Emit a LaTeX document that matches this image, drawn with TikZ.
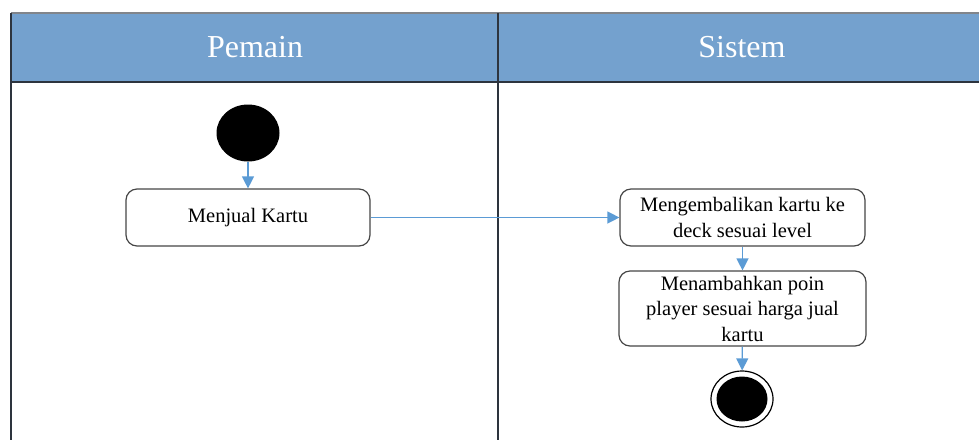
\documentclass[tikz,border=0pt]{standalone}
\usepackage{fontspec}
\setmainfont{Liberation Serif}
\usetikzlibrary{shapes.geometric,arrows.meta}
\definecolor{lanehead}{RGB}{116,161,206}
\definecolor{laneline}{RGB}{45,52,62}
\definecolor{flowblue}{RGB}{91,155,213}
\definecolor{boxline}{RGB}{70,70,70}
\tikzset{
  headtext/.style={text=white,font=\fontsize{32}{36}\selectfont,inner sep=0pt},
  action/.style={draw=boxline,line width=1.2pt,rounded corners=11pt,fill=white,
    align=center,inner sep=2pt,font=\fontsize{20.5}{25.5}\selectfont},
  startdot/.style={ellipse,fill=black,minimum width=63pt,minimum height=57pt,inner sep=0pt},
  endring/.style={ellipse,draw=black,line width=1.2pt,fill=white,minimum width=62pt,minimum height=56pt,inner sep=0pt},
  enddot/.style={ellipse,fill=black,minimum width=51pt,minimum height=45pt,inner sep=0pt},
  flow/.style={draw=flowblue,line width=1.3pt,-{Triangle[length=12pt,width=12pt]}},
}
\begin{document}
\begin{tikzpicture}[x=1pt,y=-1pt]
\useasboundingbox (0,0) rectangle (979,440);
% swimlane header and frame
\fill[lanehead] (11,13) rectangle (979,82);
\draw[laneline!60,line width=1.6pt] (979,13) -- (11,13);
\draw[laneline,line width=1.6pt] (11,13) -- (11,440);
\draw[laneline,line width=1.6pt] (11,82) -- (979,82);
\draw[laneline,line width=1.8pt] (498,13) -- (498,440);
\node[headtext] (pemain) at (255,47) {Pemain};
\node[headtext] (sistem) at (742,47) {Sistem};
% activities
\node[startdot] (start) at (248,133) {};
\node[action,minimum width=244pt,minimum height=57pt] (jual) at (248,217.5) {Menjual Kartu};
\node[action,minimum width=245pt,minimum height=57pt] (kembali) at (742.5,217.5) {Mengembalikan kartu ke\\deck sesuai level};
\node[action,minimum width=247pt,minimum height=75pt] (poin) at (742.5,308.5) {Menambahkan poin\\player sesuai harga jual\\kartu};
\node[endring] (finish) at (742,399) {};
\node[enddot] (finishdot) at (finish.center) {};
% flows
\draw[flow] (start) -- (jual);
\draw[flow] (jual) -- (kembali);
\draw[flow] (kembali) -- (poin);
\draw[flow] (poin) -- (finish);
\end{tikzpicture}
\end{document}
